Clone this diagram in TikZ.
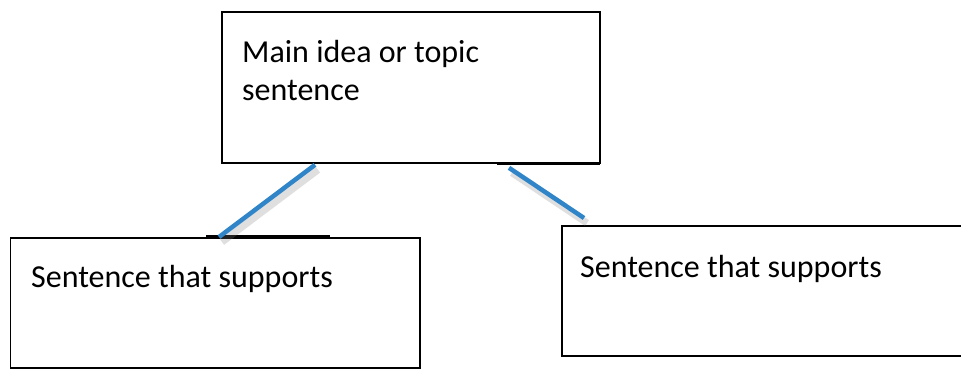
\documentclass[tikz,border=0pt]{standalone}
\usepackage{fontspec}
\setmainfont{Carlito}
\usetikzlibrary{calc}
\definecolor{connblue}{RGB}{47,133,199}
\tikzset{
  box/.style={draw=black, line width=1.8pt, fill=white, inner sep=0pt, anchor=north west},
  label/.style={anchor=base west, inner sep=0pt, font=\fontsize{32}{38}\selectfont},
  conn/.style={draw=connblue, line width=4.5pt},
  connshadow/.style={draw=black!50, line width=7pt, opacity=0.25},
  selmark/.style={draw=black, line width=3.2pt}
}
\begin{document}
\begin{tikzpicture}[x=1pt,y=1pt]
\clip (0,0) rectangle (961,-368);
\useasboundingbox (0,0) rectangle (961,-368);
% boxes
\node[box, minimum width=378pt, minimum height=151pt] (topbox) at (221,-11) {};
\node[box, minimum width=409.5pt, minimum height=130pt] (leftbox) at (9.5,-237) {};
\node[box, minimum width=460pt, minimum height=130pt] (rightbox) at (561,-225) {};
% texts
\node[label] (toptext1) at ($(topbox.north west)+(21,-51)$) {Main idea or topic};
\node[label] (toptext2) at ($(topbox.north west)+(21,-89)$) {sentence};
\node[label] (lefttext) at ($(leftbox.north west)+(21.5,-50)$) {Sentence that supports};
\node[label] (righttext) at ($(rightbox.north west)+(19,-52)$) {Sentence that supports};
% connector end points
\coordinate (la) at ($(topbox.south west)+(94,-1)$);
\coordinate (lb) at ($(leftbox.north west)+(209.5,0)$);
\coordinate (ra) at ($(topbox.south west)+(288,-4)$);
\coordinate (rb) at ($(rightbox.north west)+(23,7)$);
% selection marks on the box edges
\draw[selmark] ($(leftbox.north west)+(196.5,0)$) -- ($(leftbox.north west)+(320.5,0)$);
\draw[selmark] ($(topbox.south west)+(276,0)$) -- ($(topbox.south east)+(-1,0)$);
% connectors with shadows
\draw[connshadow] ($(la)+(3,-5)$) -- ($(lb)+(3,-5)$);
\draw[connshadow] ($(ra)+(3,-5)$) -- ($(rb)+(3,-5)$);
\draw[conn] (la) -- (lb);
\draw[conn] (ra) -- (rb);
\end{tikzpicture}
\end{document}
